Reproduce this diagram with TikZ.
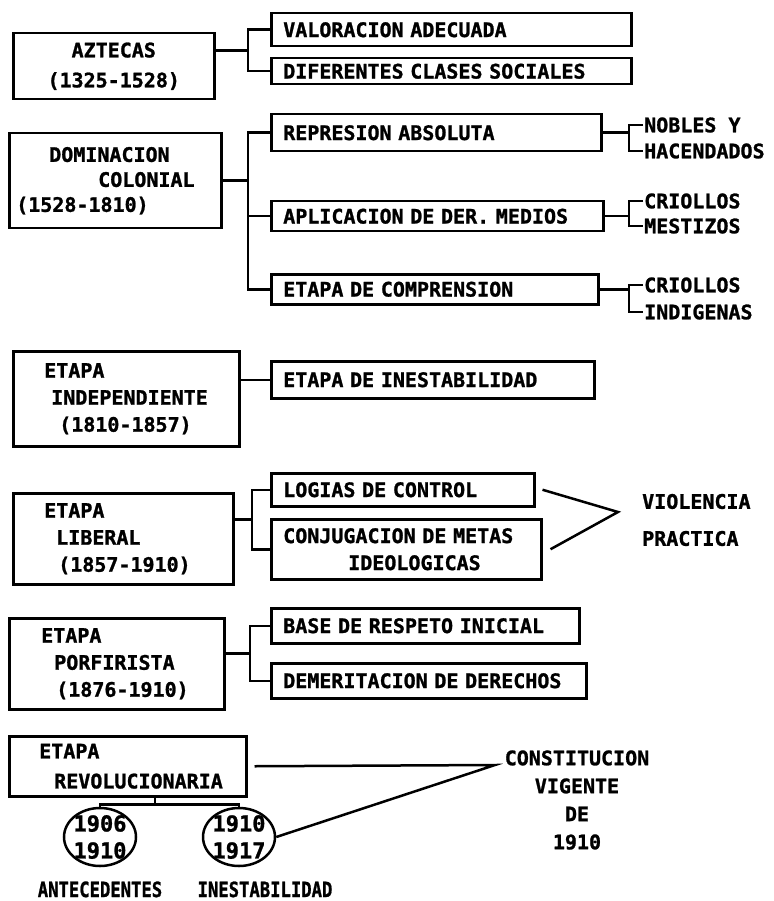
\documentclass[tikz,border=0pt]{standalone}
\usepackage{fontspec}
\usepackage{graphicx}
\setmainfont{DejaVu Sans Mono}[BoldFeatures={FakeBold=1.2}]
\usetikzlibrary{calc,positioning,shapes.geometric}
\tikzset{
	every node/.style={font=\bfseries\fontsize{20}{27}\selectfont},
	stagebox/.style={draw, line width=2.5pt, anchor=north west, inner xsep=0pt, inner ysep=0pt, align=left},
	itembox/.style={draw, line width=2.5pt, anchor=north west, inner xsep=12pt, inner ysep=0pt, align=left},
	yearring/.style={draw, ellipse, line width=2.5pt, minimum width=72pt, minimum height=58pt, inner sep=-5pt, align=center, font=\bfseries\fontsize{22}{27}\selectfont},
	tag/.style={anchor=west, inner sep=1pt},
	link/.style={line width=2.5pt},
}
\begin{document}
\begin{tikzpicture}[x=1pt,y=-1pt]
	\useasboundingbox (0,0) rectangle (773,901);
	\node[stagebox, text width=201pt, minimum height=66pt, align=center, font=\bfseries\fontsize{20}{30}\selectfont] (azt) at (12,32) {AZTECAS\\(1325-1528)};
	\node[stagebox, text width=212pt, minimum height=95pt, font=\bfseries\fontsize{20}{25}\selectfont] (dom) at (8,132) {\hspace*{40pt}DOMINACION\\\hspace*{89pt}COLONIAL\\\hspace*{7pt}(1528-1810)};
	\node[stagebox, text width=226pt, minimum height=95pt] (dep) at (12,350) {\hspace*{31pt}ETAPA\\\hspace*{38pt}INDEPENDIENTE\\\hspace*{46pt}(1810-1857)};
	\node[stagebox, text width=220pt, minimum height=91pt] (lib) at (12,492) {\hspace*{31pt}ETAPA\\\hspace*{43pt}LIBERAL\\\hspace*{45pt}(1857-1910)};
	\node[stagebox, text width=215pt, minimum height=91pt] (por) at (8,617) {\hspace*{32pt}ETAPA\\\hspace*{45pt}PORFIRISTA\\\hspace*{47pt}(1876-1910)};
	\node[stagebox, text width=237pt, minimum height=60pt, font=\bfseries\fontsize{20}{30}\selectfont] (rev) at (8,735) {\hspace*{30pt}ETAPA\\\hspace*{45pt}REVOLUCIONARIA};

	\node[itembox, text width=336pt, minimum height=33pt] (val) at (270,12) {VALORACION ADECUADA};
	\node[itembox, text width=336pt, minimum height=26pt] (dif) at (270,57) {DIFERENTES CLASES SOCIALES};
	\node[itembox, text width=306pt, minimum height=37pt] (rep) at (270,113) {REPRESION ABSOLUTA};
	\node[itembox, text width=308pt, minimum height=30pt] (apl) at (270,200) {APLICACION DE DER. MEDIOS};
	\node[itembox, text width=303pt, minimum height=30pt] (com) at (270,273) {ETAPA DE COMPRENSION};
	\node[itembox, text width=299pt, minimum height=37pt] (ine) at (270,360) {ETAPA DE INESTABILIDAD};
	\node[itembox, text width=239pt, minimum height=33pt] (log) at (270,472) {LOGIAS DE CONTROL};
	\node[itembox, text width=246pt, minimum height=60pt] (con) at (270,518) {CONJUGACION DE METAS\\\hspace*{65pt}IDEOLOGICAS};
	\node[itembox, text width=284pt, minimum height=35pt] (bas) at (270,607) {BASE DE RESPETO INICIAL};
	\node[itembox, text width=291pt, minimum height=35pt] (dem) at (270,662) {DEMERITACION DE DERECHOS};

	\node[tag] (nob) at (643,125) {NOBLES Y};
	\node[tag] (hac) at (643,151) {HACENDADOS};
	\node[tag] (crA) at (643,201) {CRIOLLOS};
	\node[tag] (mes) at (643,226) {MESTIZOS};
	\node[tag] (crB) at (643,285) {CRIOLLOS};
	\node[tag] (ind) at (643,312) {INDIGENAS};

	\node[tag, align=left, inner sep=2pt] (vio) at (640,520) {VIOLENCIA\\[10pt]PRACTICA};
	\node[align=center, font=\bfseries\fontsize{20}{28}\selectfont] (cons) at (577,800) {CONSTITUCION\\VIGENTE\\DE\\1910};
	\coordinate (vtip) at (618,512);
	\coordinate (ctip) at (495,765);

	\node[yearring] (y1) at (100,837) {1906\\1910};
	\node[yearring] (y2) at (239,837) {1910\\1917};
	\node[below=14pt of y1, inner sep=0pt, font=\bfseries\fontsize{21}{24}\selectfont] (ant) {\scalebox{0.82}[1]{ANTECEDENTES}};
	\node[below=14pt of y2, xshift=26pt, inner sep=0pt, font=\bfseries\fontsize{21}{24}\selectfont] (uns) {\scalebox{0.82}[1]{INESTABILIDAD}};

	\coordinate (ba) at ($(val.west)!.5!(dif.west)+(-22,0)$);
	\draw[link] (val.west) -| (ba) |- (dif.west);
	\draw[link] (azt.east |- ba) -- (ba);

	\coordinate (bd) at ($(rep.west)+(-22,0)$);
	\draw[link] (rep.west) -- (bd) |- (com.west);
	\draw[link] (apl.west) -- (apl.west -| bd);
	\draw[link] (dom.east) -- (dom.east -| bd);

	\draw[link] (nob.west) -- ++(-14,0) coordinate (bn) |- (hac.west);
	\draw[link] (rep.east) -- (rep.east -| bn);
	\draw[link] (crA.west) -- ++(-14,0) coordinate (bm) |- (mes.west);
	\draw[link] (apl.east) -- (apl.east -| bm);
	\draw[link] (crB.west) -- ++(-14,0) coordinate (bi) |- (ind.west);
	\draw[link] (com.east) -- (com.east -| bi);

	\draw[link] (dep.east |- ine.west) -- (ine.west);

	\coordinate (bl) at ($(log.west)!.5!(con.west)+(-18,0)$);
	\draw[link] (log.west) -| (bl) |- (con.west);
	\draw[link] (lib.east |- bl) -- (bl);
	\draw[link] ([xshift=7pt]log.east) -- (vtip) -- ([xshift=8pt]con.east);

	\coordinate (bp) at ($(bas.west)!.5!(dem.west)+(-20,0)$);
	\draw[link] (bas.west) -| (bp) |- (dem.west);
	\draw[link] (por.east |- bp) -- (bp);

	\draw[link] ([xshift=27pt]rev.south) -- ++(0,7) coordinate (br);
	\draw[link] (y1.north) |- (br) -| (y2.north);
	\draw[link] ([xshift=7pt]rev.east) -- (ctip) -- (y2.east);
\end{tikzpicture}
\end{document}
